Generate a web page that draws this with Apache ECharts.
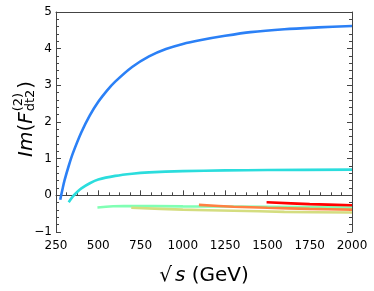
<!DOCTYPE html>
<html>
<head>
<meta charset="utf-8">
<script src="https://cdn.jsdelivr.net/npm/echarts@6/dist/echarts.min.js"></script>
<style>
html,body{margin:0;padding:0;background:#fff;}
#c{width:374px;height:291px;}
</style>
</head>
<body>
<div id="c"></div>
<script>
// x ticks
const xTicks = [250, 500, 750, 1000, 1250, 1500, 1750, 2000];
const yTicks = [-1, 0, 1, 2, 3, 4, 5];

// series 1 (blue)
const s1 = [275, 290, 300, 325, 350, 400, 450, 500, 550, 600, 700, 800, 900, 1000, 1100, 1250, 1400, 1600, 1800, 2000];
const v1 = [-0.12, 0.2, 0.4, 0.8, 1.15, 1.72, 2.18, 2.55, 2.85, 3.1, 3.5, 3.79, 3.99, 4.13, 4.23, 4.35, 4.45, 4.53, 4.58, 4.62];
// series 2 (cyan)
const s2 = [325, 350, 375, 400, 450, 500, 600, 700, 800, 1000, 1250, 1500, 2000];
const v2 = [-0.19, -0.03, 0.09, 0.19, 0.33, 0.43, 0.53, 0.59, 0.625, 0.66, 0.68, 0.69, 0.7];
// series 3 (mint)
const s3 = [495, 650, 1000, 1500, 2000];
const v3 = [-0.33, -0.29, -0.30, -0.31, -0.33];
// series 4 (yellow-green)
const s4 = [695, 1000, 1300, 1600, 2000];
const v4 = [-0.34, -0.39, -0.42, -0.45, -0.47];
// series 5 (orange)
const s5 = [1095, 1300, 1500, 1750, 2000];
const v5 = [-0.26, -0.31, -0.34, -0.37, -0.39];
// series 6 (red)
const s6 = [1495, 1750, 2000];
const v6 = [-0.19, -0.24, -0.27];

const colors = ['#2b80f6', '#2bdddd', '#80ffb4', '#d4dd80', '#ff8042', '#ff0000'];
const xs = [s1, s2, s3, s4, s5, s6];
const vs = [v1, v2, v3, v4, v5, v6];

const FONT = '"DejaVu Sans", "Noto Sans", sans-serif';

function pairs(a, b) { return a.map((x, i) => [x, b[i]]); }

// measure y-label pieces
const cv = document.createElement('canvas').getContext('2d');
function mw(t, f) { cv.font = f; return cv.measureText(t).width; }
const fMainI = 'italic 20px ' + FONT;
const fMain = '20px ' + FONT;
const fScr = '13px ' + FONT;
const wIm = mw('Im', fMainI);
const wP = mw('(', fMain);
const wF = mw('F', fMainI);
const wSup = mw('(2)', fScr);
const wSub = mw('dt2', fScr);
const xScr = wIm + wP + wF + 1;
const xClose = xScr + Math.max(wSup, wSub) + 1;

const chart = echarts.init(document.getElementById('c'), null, {renderer: 'canvas'});

const axisColor = '#444';
const option = {
  animation: false,
  grid: {left: 56, right: 22, top: 12, bottom: 55},
  xAxis: [{
    type: 'value', min: xTicks[0], max: xTicks[xTicks.length - 1], interval: 250,
    axisLine: {lineStyle: {color: axisColor, width: 1}},
    axisTick: {inside: true, length: 5, lineStyle: {color: axisColor}},
    minorTick: {show: true, splitNumber: 4, length: 3, lineStyle: {color: axisColor}},
    splitLine: {show: false},
    axisLabel: {color: '#000', fontSize: 12, fontFamily: FONT, margin: 8, formatter: v => String(v)},
    name: '{r|√}{s|s}{t| (GeV)}', nameLocation: 'middle', nameGap: 34,
    nameTextStyle: {
      rich: {
        r: {fontSize: 20, fontFamily: FONT, color: '#000', padding: [0, 3, 0, 0]},
        s: {fontSize: 20, fontFamily: FONT, fontStyle: 'italic', color: '#000'},
        t: {fontSize: 20, fontFamily: FONT, color: '#000'}
      }
    }
  }, {
    type: 'value', position: 'top', min: 250, max: 2000, interval: 250,
    axisLine: {show: true, onZero: false, lineStyle: {color: axisColor, width: 1}},
    axisTick: {show: false}, axisLabel: {show: false}, splitLine: {show: false}
  }],
  yAxis: [{
    type: 'value', min: yTicks[0], max: yTicks[yTicks.length - 1], interval: 1,
    axisLine: {show: true, onZero: false, lineStyle: {color: axisColor, width: 1}},
    axisTick: {show: true, inside: true, length: 5, lineStyle: {color: axisColor}},
    minorTick: {show: true, splitNumber: 5, length: 3, lineStyle: {color: axisColor}},
    splitLine: {show: false},
    axisLabel: {color: '#000', fontSize: 12, fontFamily: FONT, margin: 4,
      formatter: v => v < 0 ? '\u2212' + Math.abs(v) : String(v)}
  }, {
    type: 'value', position: 'right', min: -1, max: 5, interval: 1,
    axisLine: {show: true, onZero: false, lineStyle: {color: axisColor, width: 1}},
    axisTick: {show: true, inside: true, length: 5, lineStyle: {color: axisColor}},
    minorTick: {show: true, splitNumber: 5, length: 3, lineStyle: {color: axisColor}},
    splitLine: {show: false}, axisLabel: {show: false}
  }],
  series: xs.map((x, i) => ({
    type: 'line', xAxisIndex: 0, yAxisIndex: 0,
    data: pairs(x, vs[i]), smooth: 0.3, showSymbol: false,
    lineStyle: {color: colors[i], width: 2.6}, z: 2 + i
  })),
  graphic: [{
    type: 'group', x: 27, y: 157, rotation: Math.PI / 2,
    children: [
      {type: 'text', x: 0, y: 0, style: {text: 'Im', font: fMainI, fill: '#000', align: 'left', verticalAlign: 'middle'}},
      {type: 'text', x: wIm, y: 0, style: {text: '(', font: fMain, fill: '#000', align: 'left', verticalAlign: 'middle'}},
      {type: 'text', x: wIm + wP, y: 0, style: {text: 'F', font: fMainI, fill: '#000', align: 'left', verticalAlign: 'middle'}},
      {type: 'text', x: xScr, y: -8, style: {text: '(2)', font: fScr, fill: '#000', align: 'left', verticalAlign: 'middle'}},
      {type: 'text', x: xScr, y: 4, style: {text: 'dt2', font: fScr, fill: '#000', align: 'left', verticalAlign: 'middle'}},
      {type: 'text', x: xClose, y: 0, style: {text: ')', font: fMain, fill: '#000', align: 'left', verticalAlign: 'middle'}}
    ]
  }]
};
chart.setOption(option);
</script>
</body>
</html>
